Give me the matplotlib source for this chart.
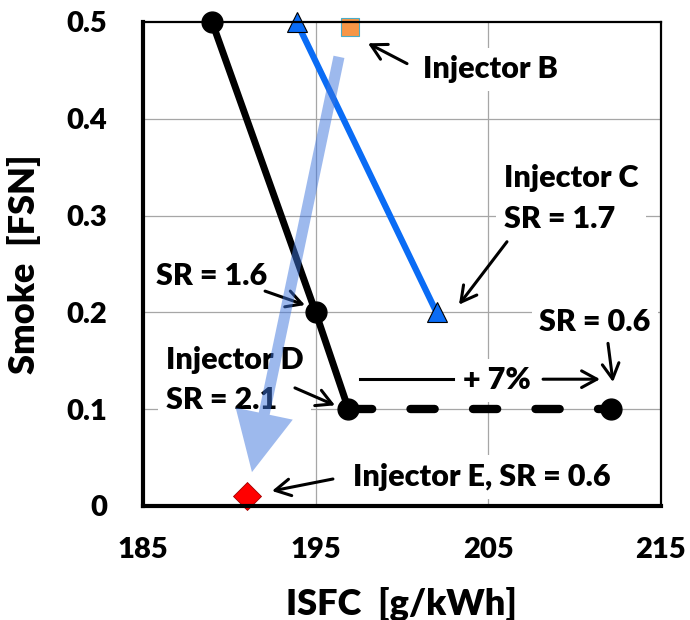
import matplotlib
matplotlib.use("Agg")
import matplotlib.pyplot as plt

plt.rcParams['font.family'] = ['Lato', 'DejaVu Sans']
W = 'heavy'
plt.rcParams['font.weight'] = W

# Data
injA_isfc = [189.0, 195.0, 196.9]
injA_smoke = [0.50, 0.20, 0.10]
injA_sr06_isfc = [196.9, 212.1]
injA_sr06_smoke = [0.10, 0.10]
injC_isfc = [193.9, 202.0]
injC_smoke = [0.50, 0.20]
injB_isfc = [197.0]
injB_smoke = [0.495]
injE_isfc = [191.0]
injE_smoke = [0.01]

xticks = [185, 195, 205, 215]
yticks = [0, 0.1, 0.2, 0.3, 0.4, 0.5]
ytick_labels = ['0', '0.1', '0.2', '0.3', '0.4', '0.5']

fig = plt.figure(figsize=(6.9, 6.2), dpi=100)
ax = fig.add_axes([143/690, 1-506/620, (661-143)/690, (506-22)/620])

ax.set_xlim(185, 215)
ax.set_ylim(0, 0.5)
ax.set_xticks(xticks)
ax.set_xticklabels([str(t) for t in xticks])
ax.set_yticks(yticks)
ax.set_yticklabels(ytick_labels)
ax.tick_params(length=0, labelsize=21)
ax.tick_params(axis='x', pad=22)
ax.tick_params(axis='y', pad=26)
for lab in ax.get_xticklabels() + ax.get_yticklabels():
    lab.set_fontweight(W)

# grid
for x in [195, 205]:
    ax.axvline(x, color='#a6a6a6', lw=0.9, zorder=0.5)
for y in [0.1, 0.2, 0.3, 0.4]:
    ax.axhline(y, color='#a6a6a6', lw=0.9, zorder=0.5)

for s in ['left', 'bottom']:
    ax.spines[s].set_linewidth(3)
for s in ['top', 'right']:
    ax.spines[s].set_linewidth(1.6)
for s in ax.spines.values():
    s.set_zorder(6)

ax.set_xlabel('ISFC  [g/kWh]', fontsize=26, fontweight=W, labelpad=17)
ax.set_ylabel('Smoke  [FSN]', fontsize=26, fontweight=W, labelpad=18)

# series
ax.plot(injA_isfc, injA_smoke, color='black', lw=5, marker='o', ms=15,
        solid_capstyle='round', zorder=4, clip_on=False)
ax.plot(injA_sr06_isfc, injA_sr06_smoke, color='black', lw=6,
        linestyle=(0, (2.9, 4.6)), dash_capstyle='round', zorder=4, clip_on=False)
ax.plot(injA_sr06_isfc[-1:], injA_sr06_smoke[-1:], 'o', color='black', ms=15, zorder=4)
ax.plot(injC_isfc, injC_smoke, color='#0a6cf5', lw=4.5, marker='^', ms=15,
        mfc='#0a6cf5', mec='black', mew=0.8, zorder=4, clip_on=False)
ax.plot(injB_isfc, injB_smoke, 's', color='#f79646', ms=13, mec='#4bacc6',
        mew=0.8, zorder=4, clip_on=False)
ax.plot(injE_isfc, injE_smoke, 'D', color='#ff0000', ms=14, mec='#a00000',
        mew=0.6, zorder=4, clip_on=False)

# translucent trend arrow
ax.annotate('', xy=(191.31, 0.035), xytext=(196.35, 0.464),
            arrowprops=dict(arrowstyle='simple,head_length=4.3,head_width=4.2,tail_width=0.8',
                            mutation_scale=10, color='#3d74dc', alpha=0.5, lw=0,
                            shrinkA=0, shrinkB=0), zorder=5)

tbox = dict(boxstyle='square,pad=0.25', fc='white', ec='none')
fs = 22
arr = dict(arrowstyle='->,head_length=0.55,head_width=0.3', lw=2.2, color='black',
           shrinkA=0, shrinkB=0, mutation_scale=20)

ax.text(205.15, 0.451, 'Injector B', fontsize=fs, ha='center', va='center', bbox=tbox, zorder=2)
ax.annotate('', xy=(198.03, 0.478), xytext=(200.29, 0.457), arrowprops=arr, zorder=3)

ax.text(205.9, 0.318, 'Injector C\nSR = 1.7', fontsize=fs, ha='left', va='center',
        linespacing=1.55, bbox=tbox, zorder=2)
ax.annotate('', xy=(203.30, 0.208), xytext=(206.08, 0.273), arrowprops=arr, zorder=3)

ax.text(188.99, 0.2376, 'SR = 1.6', fontsize=fs, ha='center', va='center', bbox=tbox, zorder=2)
ax.annotate('', xy=(194.38, 0.2076), xytext=(192.07, 0.222), arrowprops=arr, zorder=3)

ax.text(186.33, 0.130, 'Injector D\nSR = 2.1', fontsize=fs, ha='left', va='center',
        linespacing=1.5, bbox=tbox, zorder=2)
ax.annotate('', xy=(196.12, 0.104), xytext=(193.80, 0.122), arrowprops=arr, zorder=3)

ax.text(205.5, 0.130, '+ 7%', fontsize=fs, ha='center', va='center', bbox=tbox, zorder=2)
ax.plot([197.57, 202.95], [0.131, 0.131], color='black', lw=2.2, zorder=3)
ax.annotate('', xy=(211.47, 0.131), xytext=(208.17, 0.131), arrowprops=arr, zorder=3)

ax.text(211.18, 0.190, 'SR = 0.6', fontsize=fs, ha='center', va='center', bbox=tbox, zorder=2)
ax.annotate('', xy=(212.22, 0.128), xytext=(211.93, 0.168), arrowprops=arr, zorder=3)

ax.text(204.63, 0.030, 'Injector E, SR = 0.6', fontsize=fs, ha='center', va='center',
        bbox=tbox, zorder=2)
ax.annotate('', xy=(192.47, 0.0155), xytext=(196.0, 0.0279), arrowprops=arr, zorder=3)

fig.savefig('out.png', dpi=100)
